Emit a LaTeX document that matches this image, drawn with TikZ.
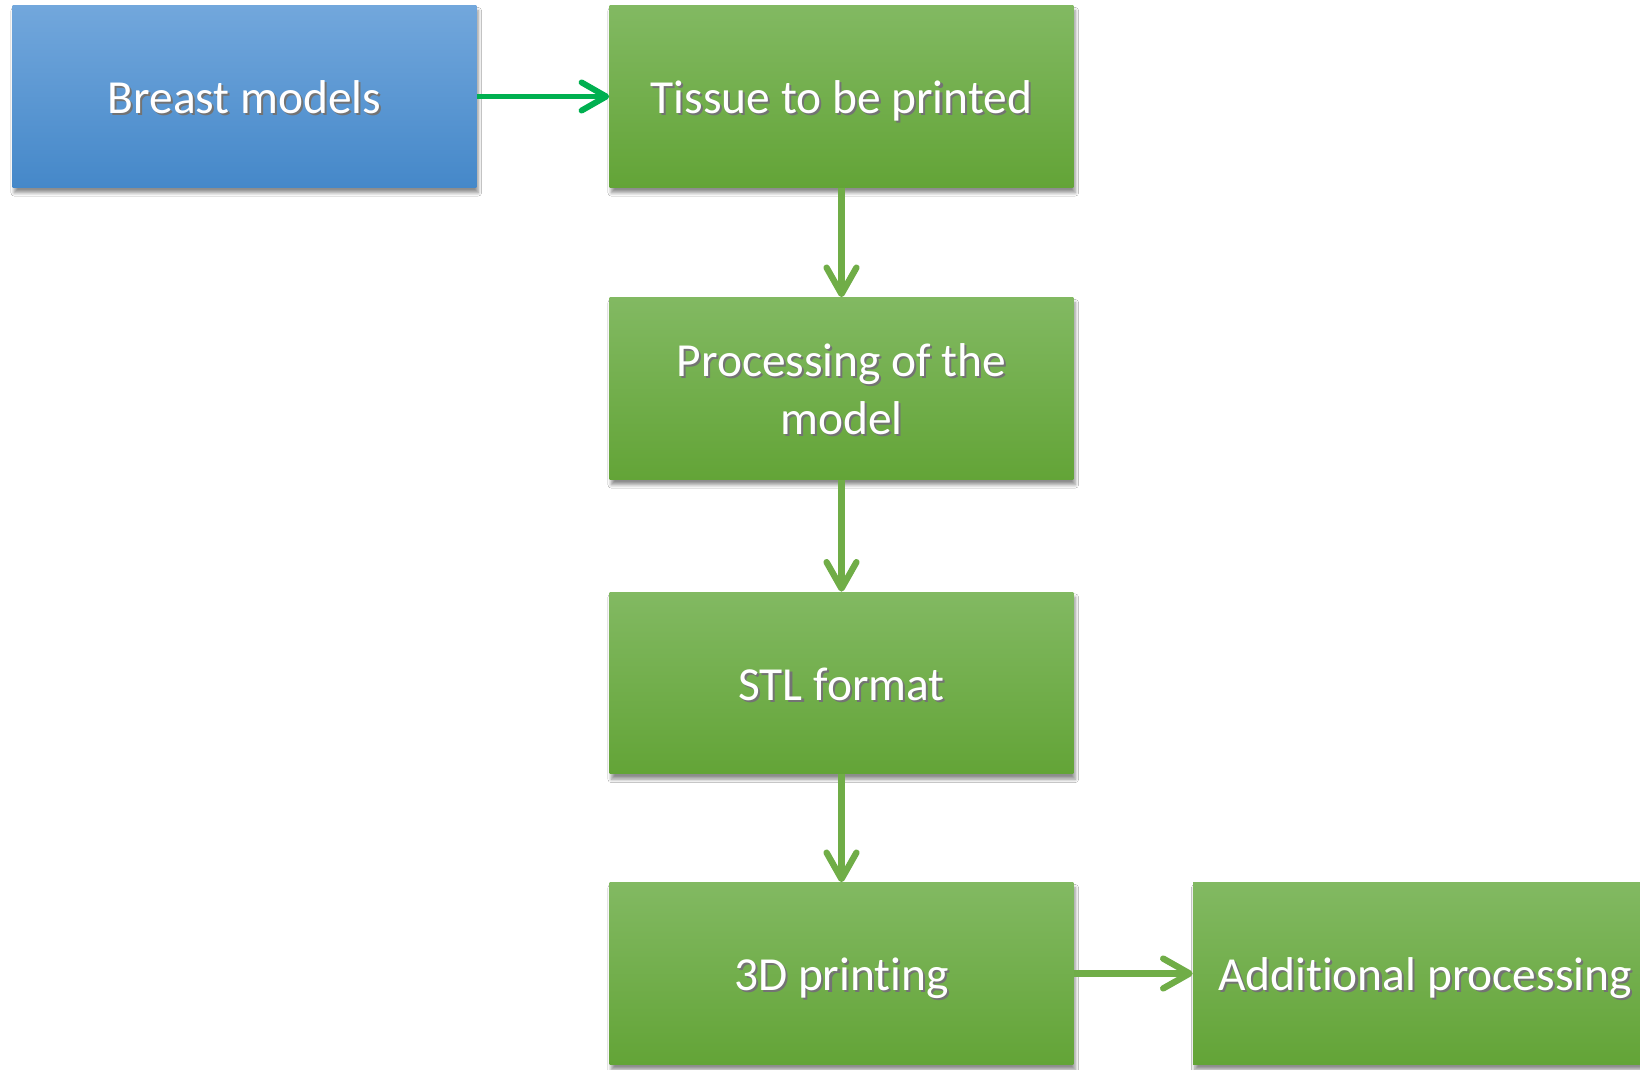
\documentclass[tikz,border=0pt]{standalone}
\usepackage{fontspec}
\setmainfont{Carlito}[Ligatures=NoCommon]
\usetikzlibrary{arrows.meta,shadows.blur,positioning}
\definecolor{bluetop}{RGB}{114,167,220}
\definecolor{bluemid}{RGB}{86,153,218}
\definecolor{bluebot}{RGB}{69,136,201}
\definecolor{greentop}{RGB}{130,185,98}
\definecolor{greenmid}{RGB}{112,176,64}
\definecolor{greenbot}{RGB}{99,164,55}
\definecolor{linkgreen}{RGB}{0,176,80}
\definecolor{flowgreen}{RGB}{112,173,71}
% white label line with a soft dark offset copy underneath
\newcommand{\shtext}[1]{\raisebox{0pt}[24pt][4.4pt]{\rlap{\kern1.2pt\raisebox{-1.2pt}{\color{black!55}#1}}#1}}
\tikzset{
  block/.style={minimum width=9.28cm, minimum height=3.64cm, inner sep=0pt,
    text=white, align=center, font=\fontsize{27}{33}\selectfont,
    blur shadow={shadow xshift=1pt, shadow yshift=-3pt, shadow blur steps=6, shadow opacity=45}},
  bluebox/.style={block, top color=bluetop, middle color=bluemid, bottom color=bluebot},
  greenbox/.style={block, top color=greentop, middle color=greenmid, bottom color=greenbot},
  flow/.style={-{Straight Barb[round,length=15pt,width=17pt]}, line width=3.6pt, flowgreen},
  link/.style={-{Straight Barb[round,length=14pt,width=16pt]}, line width=3.4pt, linkgreen}
}
\begin{document}
\begin{tikzpicture}[x=0.02cm,y=-0.02cm]
  \useasboundingbox[fill=white] (0,0) rectangle (1640,1070);
  \node[bluebox] (models) at (244.5,96.5) {\shtext{Breast models}};
  \node[greenbox] (tissue) at (841.5,96.5) {\shtext{Tissue to be printed}};
  \node[greenbox] (proc) at (841.5,388.5) {\shtext{Processing of the}\\\shtext{model}};
  \node[greenbox] (stl) at (841.5,683) {\shtext{STL format}};
  \node[greenbox] (print) at (841.5,973.5) {\shtext{3D printing}};
  \node[greenbox] (extra) at (1425,973.5) {\shtext{Additional processing}};
  % connectors
  \draw[link] (models) -- (tissue);
  \draw[flow] (tissue) -- (proc);
  \draw[flow] (proc) -- (stl);
  \draw[flow] (stl) -- (print);
  \draw[flow] (print) -- (extra);
\end{tikzpicture}
\end{document}
